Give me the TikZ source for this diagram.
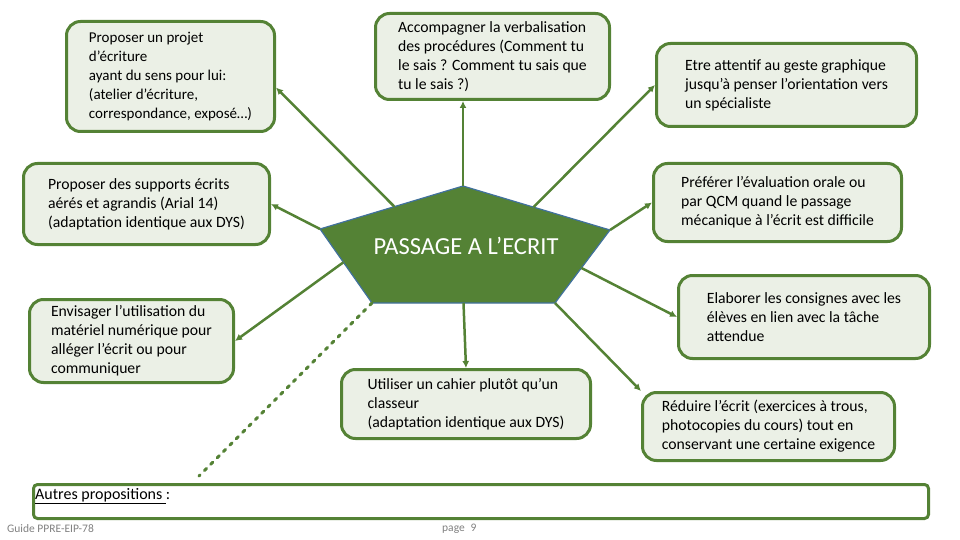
\documentclass[tikz,border=0pt]{standalone}
\usepackage{fontspec}
\setmainfont{Carlito}
\usetikzlibrary{arrows.meta,calc}
\definecolor{leafgreen}{RGB}{84,130,53}
\definecolor{palegreen}{RGB}{235,240,230}
\definecolor{slateblue}{RGB}{65,113,156}
\definecolor{footgray}{RGB}{128,128,128}

\begin{document}
\begin{tikzpicture}[x=1pt,y=-1pt,>=Latex,
  box/.style={draw=leafgreen,line width=3pt,fill=palegreen,rounded corners=14pt,align=left,font=\fontsize{15.7}{19}\selectfont},
  link/.style={draw=leafgreen,line width=2.5pt,-{Latex[length=7pt,width=7pt]}}]
\useasboundingbox (0,0) rectangle (960,540);

\coordinate (pt) at (463,186);
\coordinate (pr) at (610,230);
\coordinate (pbr) at (555,303);
\coordinate (pbl) at (372,303);
\coordinate (pl) at (320,229);
\fill[leafgreen,draw=slateblue,line width=1.2pt] (pt) -- (pr) -- (pbr) -- (pbl) -- (pl) -- cycle;
\node[text=white,font=\fontsize{24.5}{28}\selectfont] (title) at (466,246) {PASSAGE A L’ECRIT};

\node[box,minimum width=208,minimum height=110,font=\fontsize{15}{19}\selectfont] (b1) at (170.5,76.5) {Proposer un projet\\ d’écriture\\ ayant du sens pour lui:\\ (atelier d’écriture,\\ correspondance, exposé…)};
\node[box,minimum width=234,minimum height=86] (b2) at (492.5,56.5) {Accompagner la verbalisation\\ des procédures (Comment tu\\ le sais ? Comment tu sais que\\ tu le sais ?)};
\node[box,minimum width=260,minimum height=83] (b3) at (786.5,85) {Etre attentif au geste graphique\\ jusqu’à penser l’orientation vers\\ un spécialiste};
\node[box,minimum width=246,minimum height=81] (b4) at (146.5,204) {Proposer des supports écrits\\ aérés et agrandis (Arial 14)\\ (adaptation identique aux DYS)};
\node[box,minimum width=248,minimum height=78] (b5) at (777.5,202.5) {Préférer l’évaluation orale ou\\ par QCM quand le passage\\ mécanique à l’écrit est difficile};
\node[box,minimum width=204,minimum height=83] (b6) at (131.5,341) {Envisager l’utilisation du\\ matériel numérique pour\\ alléger l’écrit ou pour\\ communiquer};
\node[box,minimum width=251,minimum height=83] (b7) at (804,317) {Elaborer les consignes avec les\\ élèves en lien avec la tâche\\ attendue};
\node[box,minimum width=249,minimum height=69] (b8) at (466,404) {Utiliser un cahier plutôt qu’un\\ classeur\\ (adaptation identique aux DYS)};
\node[box,minimum width=252,minimum height=68] (b9) at (768.5,426.5) {Réduire l’écrit (exercices à trous,\\ photocopies du cours) tout en\\ conservant une certaine exigence};
\node[draw=leafgreen,line width=3pt,rounded corners=4pt,minimum width=895,minimum height=34] (b10) at (481,501.5) {};
\node[anchor=west,inner sep=0pt,font=\fontsize{16}{18}\selectfont] (others) at (35,496) {\underline{Autres propositions\ }:};

\draw[link] ($(pl)!0.52!(pt)$) -- (b1.-6);
\draw[link] (pt) -- (pt |- b2.south);
\draw[link] ($(pt)!0.48!(pr)$) -- (b3.west);
\draw[link] (pl) -- (b4.east);
\draw[link] (pr) -- (b5.west);
\draw[link] ($(pl)!0.45!(pbl)$) -- (b6.east);
\draw[link] ($(pr)!0.52!(pbr)$) -- (b7.west);
\draw[link] ($(pbl)!0.5!(pbr)$) -- (b8.north);
\draw[link] (pbr) -- (b9.north west);
\coordinate (d10) at (199,476);
\draw[leafgreen,line width=3pt,line cap=round,dash pattern=on 3pt off 6pt] (pbl) -- (d10);

\node[anchor=west,inner sep=0pt,text=footgray,font=\fontsize{11.5}{13}\selectfont] (guide) at (7,529) {Guide PPRE-EIP-78};
\node[anchor=west,inner sep=0pt,text=footgray,font=\fontsize{11.5}{13}\selectfont] (page) at (442,529) {page\enspace 9};
\end{tikzpicture}
\end{document}
